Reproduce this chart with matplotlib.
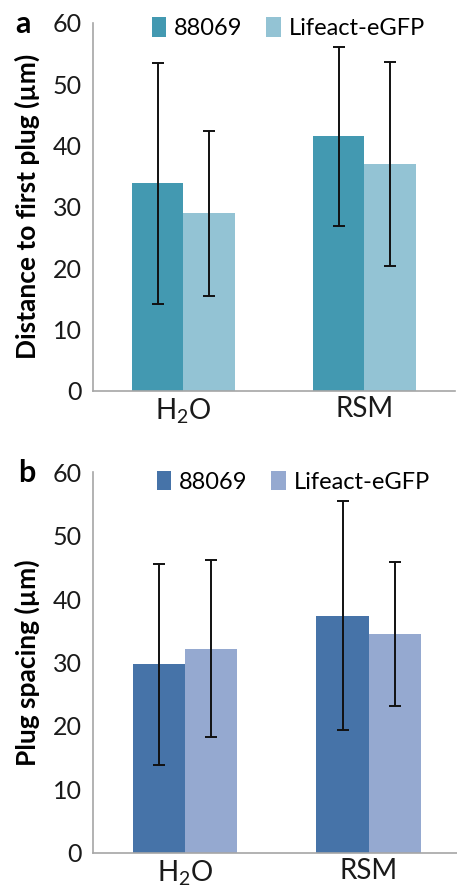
import matplotlib
matplotlib.use("Agg")
import matplotlib.pyplot as plt
import numpy as np

plt.rcParams['font.family'] = ['Lato', 'DejaVu Sans']

categories = ['H$_\\mathregular{2}$O', 'RSM']
series_names = ['88069', 'Lifeact-eGFP']

# Panel a: distance to first plug
a_88069 = [33.8, 41.5]
a_88069_err_hi = [53.5, 56.0]
a_88069_err_lo = [14.1, 26.9]
a_life = [28.9, 36.9]
a_life_err_hi = [42.4, 53.6]
a_life_err_lo = [15.4, 20.3]

# Panel b: plug spacing
b_88069 = [29.8, 37.4]
b_88069_err_hi = [45.6, 55.4]
b_88069_err_lo = [13.9, 19.4]
b_life = [32.2, 34.5]
b_life_err_hi = [46.2, 45.8]
b_life_err_lo = [18.2, 23.1]

yticks = [0, 10, 20, 30, 40, 50, 60]

fig = plt.figure(figsize=(4.57, 8.85), dpi=100)

def panel(rect, v1, hi1, lo1, v2, hi2, lo2, c1, c2, ylabel, letter, letter_x, letter_y, leg_anchor):
    ax = fig.add_axes(rect)
    x = np.arange(len(categories))
    w = 0.285
    e1 = [np.array(v1) - np.array(lo1), np.array(hi1) - np.array(v1)]
    e2 = [np.array(v2) - np.array(lo2), np.array(hi2) - np.array(v2)]
    ax.bar(x - w/2, v1, w, color=c1, label=series_names[0], zorder=2)
    ax.bar(x + w/2, v2, w, color=c2, label=series_names[1], zorder=2)
    ax.errorbar(x - w/2, v1, yerr=e1, fmt='none', ecolor='#111111', elinewidth=1.4,
                capsize=4.5, capthick=1.4, zorder=3)
    ax.errorbar(x + w/2, v2, yerr=e2, fmt='none', ecolor='#111111', elinewidth=1.4,
                capsize=4.5, capthick=1.4, zorder=3)
    ax.set_xlim(-0.5, 1.5)
    ax.set_ylim(0, 60)
    ax.set_yticks(yticks)
    ax.set_xticks(x)
    ax.set_xticklabels(categories)
    ax.tick_params(axis='y', length=0, labelsize=18, colors='#1a1a1a', pad=8)
    ax.tick_params(axis='x', length=0, labelsize=20, colors='#1a1a1a', pad=4)
    for s in ['top', 'right']:
        ax.spines[s].set_visible(False)
    for s in ['left', 'bottom']:
        ax.spines[s].set_color('#A6A6A6')
        ax.spines[s].set_linewidth(1.2)
    ax.set_ylabel(ylabel, fontsize=19, fontweight='bold', labelpad=9)
    ax.legend(loc='center', bbox_to_anchor=leg_anchor, ncol=2, frameon=False,
              fontsize=17, handlelength=0.6, handleheight=0.9, handletextpad=0.35,
              columnspacing=1.0, borderpad=0, borderaxespad=0)
    fig.text(letter_x, letter_y, letter, fontsize=22, fontweight='bold', va='center')
    return ax

panel([0.2035, 0.5585, 0.792, 0.4158], a_88069, a_88069_err_hi, a_88069_err_lo,
      a_life, a_life_err_hi, a_life_err_lo, '#4399B1', '#93C3D4',
      'Distance to first plug (µm)', 'a', 0.033, 0.973, (0.54, 0.985))
panel([0.2035, 0.0365, 0.805, 0.4298], b_88069, b_88069_err_hi, b_88069_err_lo,
      b_life, b_life_err_hi, b_life_err_lo, '#4673A8', '#95A9D0',
      'Plug spacing (µm)', 'b', 0.040, 0.465, (0.545, 0.975))

fig.savefig('out.png', dpi=100)
